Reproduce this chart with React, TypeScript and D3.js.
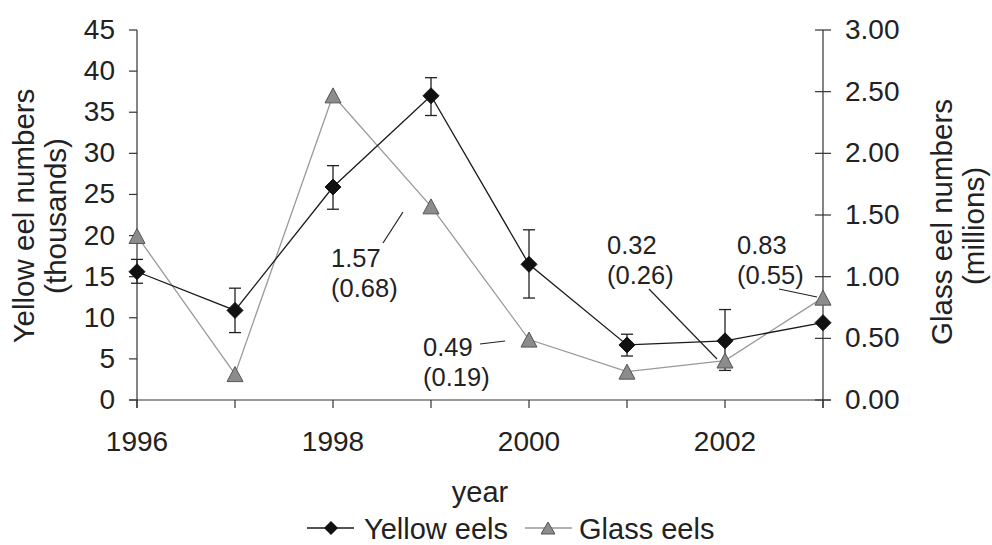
import React from "react";
import * as d3 from "d3";

const years = [1996, 1997, 1998, 1999, 2000, 2001, 2002, 2003];
const yellowEels = [15.6, 10.9, 25.9, 37.0, 16.5, 6.7, 7.2, 9.4];
const yellowErrHi = [17.1, 13.6, 28.5, 39.2, 20.7, 8.0, 11.0, 9.4];
const yellowErrLo = [14.2, 8.2, 23.2, 34.6, 12.4, 5.35, 3.6, 9.4];
const glassEels = [1.33, 0.21, 2.47, 1.57, 0.49, 0.23, 0.32, 0.83];
const leftTicks = [0, 5, 10, 15, 20, 25, 30, 35, 40, 45];
const rightTicks = [0, 0.5, 1.0, 1.5, 2.0, 2.5, 3.0];
const xTickLabels = [1996, 1998, 2000, 2002];

const annotations = [
  { year: 1999, value: 1.57, se: "0.68" },
  { year: 2000, value: 0.49, se: "0.19" },
  { year: 2002, value: 0.32, se: "0.26" },
  { year: 2003, value: 0.83, se: "0.55" },
];
const annoLayout = [
  { tx: 331, ty: 267, lx1: 383, ly1: 243, lx2: 403, ly2: 212 },
  { tx: 423, ty: 356, lx1: 480, ly1: 344, lx2: 505, ly2: 341 },
  { tx: 607, ty: 254, lx1: 649, ly1: 289, lx2: 717, ly2: 359 },
  { tx: 737, ty: 254, lx1: 779, ly1: 289, lx2: 817, ly2: 297 },
];

const FONT = "'Liberation Sans', Arial, Helvetica, sans-serif";
const TXT = "#222";

export default function App() {
  const W = 992, H = 545;
  const x0 = 137, x1 = 823, yTop = 30, yBot = 400;
  const x = d3.scaleLinear().domain([1996, 2003]).range([x0, x1]);
  const yL = d3.scaleLinear().domain([0, 45]).range([yBot, yTop]);
  const yR = d3.scaleLinear().domain([0, 3]).range([yBot, yTop]);

  const yellowLine = d3.line<number>().x((_, i) => x(years[i])).y((d) => yL(d));
  const glassLine = d3.line<number>().x((_, i) => x(years[i])).y((d) => yR(d));

  const diamond = (cx: number, cy: number, hw: number, hh: number) =>
    `M${cx},${cy - hh}L${cx + hw},${cy}L${cx},${cy + hh}L${cx - hw},${cy}Z`;
  const triangle = (cx: number, cy: number, hw: number, hh: number) =>
    `M${cx},${cy - hh}L${cx + hw},${cy + hh}L${cx - hw},${cy + hh}Z`;

  const axisColor = "#333";
  const TICK_FS = 28;

  return (
    <svg width={W} height={H} style={{ position: "absolute", left: 0, top: 0, background: "#fff" }}>
      <rect width={W} height={H} fill="#fff" />
      {/* axes */}
      <line x1={x0} y1={yTop} x2={x0} y2={yBot + 8} stroke={axisColor} strokeWidth={1.2} />
      <line x1={x1} y1={yTop} x2={x1} y2={yBot + 8} stroke={axisColor} strokeWidth={1.2} />
      <line x1={x0 - 8} y1={yBot} x2={x1 + 8} y2={yBot} stroke={axisColor} strokeWidth={1.2} />
      {leftTicks.map((t) => (
        <g key={"l" + t}>
          <line x1={x0 - 8} x2={x0} y1={yL(t)} y2={yL(t)} stroke={axisColor} strokeWidth={1.2} />
          <text x={x0 - 22} y={yL(t) + 9} textAnchor="end" fontFamily={FONT} fontSize={TICK_FS} fill={TXT}>
            {t}
          </text>
        </g>
      ))}
      {rightTicks.map((t) => (
        <g key={"r" + t}>
          <line x1={x1 - 8} x2={x1 + 8} y1={yR(t)} y2={yR(t)} stroke={axisColor} strokeWidth={1.2} />
          <text x={x1 + 22} y={yR(t) + 9} textAnchor="start" fontFamily={FONT} fontSize={TICK_FS} fill={TXT}>
            {t.toFixed(2)}
          </text>
        </g>
      ))}
      {years.map((yr) => (
        <line key={"x" + yr} x1={x(yr)} x2={x(yr)} y1={yBot} y2={yBot + 8} stroke={axisColor} strokeWidth={1.2} />
      ))}
      {xTickLabels.map((yr) => (
        <text key={"xl" + yr} x={x(yr)} y={451} textAnchor="middle" fontFamily={FONT} fontSize={TICK_FS} fill={TXT}>
          {yr}
        </text>
      ))}
      {/* axis titles */}
      <text x={480} y={502} textAnchor="middle" fontFamily={FONT} fontSize={29} fill={TXT}>
        year
      </text>
      <g transform={`translate(34,216) rotate(-90)`}>
        <text x={0} y={0} textAnchor="middle" fontFamily={FONT} fontSize={29.5} fill={TXT}>
          Yellow eel numbers
        </text>
        <text x={0} y={32} textAnchor="middle" fontFamily={FONT} fontSize={29.5} fill={TXT}>
          (thousands)
        </text>
      </g>
      <g transform={`translate(952,222) rotate(-90)`}>
        <text x={0} y={0} textAnchor="middle" fontFamily={FONT} fontSize={29.5} fill={TXT}>
          Glass eel numbers
        </text>
        <text x={-4} y={32} textAnchor="middle" fontFamily={FONT} fontSize={29.5} fill={TXT}>
          (millions)
        </text>
      </g>

      {/* glass eel line */}
      <path d={glassLine(glassEels) || ""} fill="none" stroke="#999" strokeWidth={1.3} />
      {/* yellow eel line */}
      <path d={yellowLine(yellowEels) || ""} fill="none" stroke="#1a1a1a" strokeWidth={1.3} />

      {/* error bars */}
      {years.map((yr, i) =>
        yellowErrHi[i] - yellowErrLo[i] > 0.5 ? (
          <g key={"e" + yr} stroke="#222" strokeWidth={1.3}>
            <line x1={x(yr)} x2={x(yr)} y1={yL(yellowErrHi[i])} y2={yL(yellowErrLo[i])} />
            <line x1={x(yr) - 6} x2={x(yr) + 6} y1={yL(yellowErrHi[i])} y2={yL(yellowErrHi[i])} />
            <line x1={x(yr) - 6} x2={x(yr) + 6} y1={yL(yellowErrLo[i])} y2={yL(yellowErrLo[i])} />
          </g>
        ) : null
      )}

      {/* markers */}
      {years.map((yr, i) => (
        <path key={"g" + yr} d={triangle(x(yr), yR(glassEels[i]), 8, 7.5)} fill="#8c8c8c" stroke="#555" strokeWidth={1} />
      ))}
      {years.map((yr, i) => (
        <path key={"y" + yr} d={diamond(x(yr), yL(yellowEels[i]), 8, 8)} fill="#111" stroke="#111" strokeWidth={1} />
      ))}

      {/* annotations */}
      {annotations.map((a, i) => {
        const L = annoLayout[i];
        return (
          <g key={"a" + a.year}>
            <line x1={L.lx1} y1={L.ly1} x2={L.lx2} y2={L.ly2} stroke="#222" strokeWidth={1.2} />
            <text x={L.tx} y={L.ty} fontFamily={FONT} fontSize={25.5} fill={TXT}>
              {a.value.toFixed(2)}
            </text>
            <text x={L.tx} y={L.ty + 30} fontFamily={FONT} fontSize={25.5} fill={TXT}>
              ({a.se})
            </text>
          </g>
        );
      })}

      {/* legend */}
      <line x1={307} x2={354} y1={528} y2={528} stroke="#1a1a1a" strokeWidth={1.3} />
      <path d={diamond(331, 528, 7, 7)} fill="#111" />
      <text x={364} y={539} fontFamily={FONT} fontSize={29} fill={TXT}>
        Yellow eels
      </text>
      <line x1={525} x2={572} y1={528} y2={528} stroke="#999" strokeWidth={1.3} />
      <path d={triangle(548, 528, 7, 6)} fill="#8c8c8c" stroke="#555" strokeWidth={1} />
      <text x={579} y={539} fontFamily={FONT} fontSize={29} fill={TXT}>
        Glass eels
      </text>
    </svg>
  );
}
